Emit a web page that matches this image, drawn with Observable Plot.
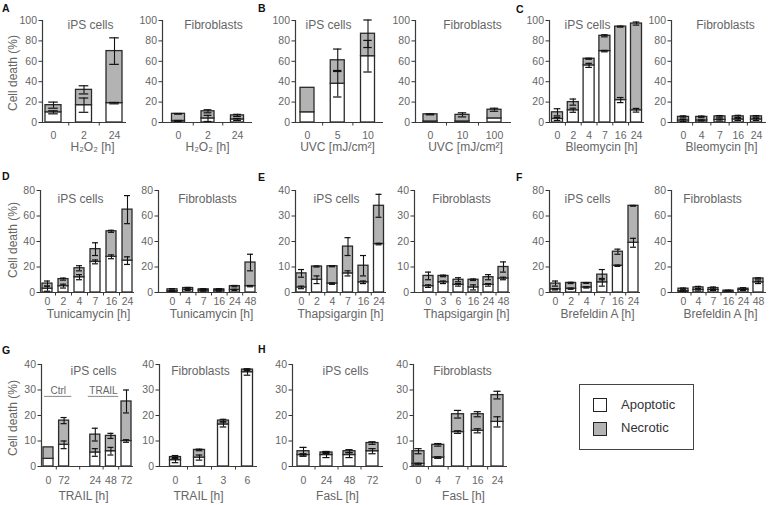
<!DOCTYPE html>
<html>
<head>
<meta charset="utf-8">
<script src="https://cdn.jsdelivr.net/npm/d3@7"></script>
<script src="https://cdn.jsdelivr.net/npm/@observablehq/plot@0.6"></script>
<style>
  body { margin: 0; background: #fff; }
  #fig { position: relative; width: 769px; height: 505px; overflow: hidden; background: #fff;
         font-family: "Liberation Sans", Arial, Helvetica, sans-serif; }
  #fig .letter { position: absolute; font-weight: bold; font-size: 10.5px; line-height: 10.5px; color: #111; }
  #fig .ylab { position: absolute; font-size: 12px; color: #666; white-space: nowrap;
               transform: translate(-50%, -50%) rotate(-90deg); }
  #fig svg.panel text { fill: #666; }
  #legend { position: absolute; left: 579px; top: 384px; width: 113px; height: 64px; border: 1px solid #444; background: #fff; }
  #legend .sw { position: absolute; left: 13px; width: 12px; height: 12px; border: 1.3px solid #222; }
  #legend .tx { position: absolute; left: 41px; font-size: 13px; line-height: 13px; color: #333; }
</style>
</head>
<body>
<div id="fig"></div>
<script>
// ---------------- DATA ----------------
const titleIPS = "iPS cells";
const titleFib = "Fibroblasts";
const seriesNames = ["Apoptotic", "Necrotic"];
const yLabel = "Cell death (%)";

// A: H2O2
const aIpsLabels = ["0", "2", "24"];
const aIpsApo = [10, 17, 19];
const aIpsApoErr = [1.5, 7, 0.7];
const aIpsTot = [17, 32, 70];
const aIpsTotErr = [3, 4, 13];
const aFibLabels = ["0", "2", "24"];
const aFibApo = [1.5, 4, 3];
const aFibApoErr = [0.5, 3, 1];
const aFibTot = [8.5, 11, 7];
const aFibTotErr = [0.3, 1.5, 1];

// B: UVC
const bIpsLabels = ["0", "5", "10"];
const bIpsApo = [10, 38, 65];
const bIpsApoErr = [0, 13, 15.5];
const bIpsTot = [34, 61, 87];
const bIpsTotErr = [0, 11, 13.5];
const bFibLabels = ["0", "10", "100"];
const bFibApo = [1, 1, 4];
const bFibApoErr = [0, 0, 0];
const bFibTot = [8, 7.5, 12.5];
const bFibTotErr = [0.5, 2, 1.5];

// C: Bleomycin
const cIpsLabels = ["0", "2", "4", "7", "16", "24"];
const cIpsApo = [3.5, 12, 56, 70, 22, 12];
const cIpsApoErr = [1.5, 2, 2, 0.7, 2.5, 1.8];
const cIpsTot = [10, 20, 62.5, 85, 94, 97];
const cIpsTotErr = [3.5, 3, 0.5, 1, 0.5, 1.5];
const cFibLabels = ["0", "4", "7", "16", "24"];
const cFibApo = [2, 2, 2.5, 3, 3];
const cFibApoErr = [1, 0.5, 1, 1, 1];
const cFibTot = [5.5, 5.5, 6, 6, 6];
const cFibTotErr = [1, 0.8, 0.8, 1, 0.8];

// D: Tunicamycin
const dIpsLabels = ["0", "2", "4", "7", "16", "24"];
const dIpsApo = [3, 5, 12, 24, 28, 25];
const dIpsApoErr = [2, 1.5, 2, 1.5, 1.5, 3];
const dIpsTot = [7, 10.5, 19, 34, 48, 65];
const dIpsTotErr = [2, 0.8, 2, 5, 0.8, 11];
const dFibLabels = ["0", "4", "7", "16", "24", "48"];
const dFibApo = [1, 2, 1.5, 1.5, 2, 5];
const dFibApoErr = [0.3, 0.5, 0.5, 0.5, 0.5, 0.5];
const dFibTot = [2.5, 3.5, 2.5, 2.5, 5, 23.5];
const dFibTotErr = [0.5, 0.5, 0.5, 0.5, 0.5, 6.5];

// E: Thapsigargin
const eIpsLabels = ["0", "2", "4", "7", "16", "24"];
const eIpsApo = [2, 5, 3.5, 7.5, 4, 19];
const eIpsApoErr = [0.5, 1.5, 0.3, 1, 0.5, 0.3];
const eIpsTot = [7.5, 10.2, 10.3, 18, 10.5, 34];
const eIpsTotErr = [1.5, 0.2, 0.2, 3.5, 4, 4.5];
const eFibLabels = ["0", "3", "6", "16", "24", "48"];
const eFibApo = [2.5, 4, 3, 2, 3, 5.5];
const eFibApoErr = [0.5, 0.5, 0.5, 1, 0.5, 0.5];
const eFibTot = [6.5, 6.5, 5, 5, 6, 10];
const eFibTotErr = [1.5, 0.3, 0.8, 0.3, 1, 2];

// F: Brefeldin A
const fIpsLabels = ["0", "2", "4", "7", "16", "24"];
const fIpsApo = [2.5, 3, 4, 8, 21, 39];
const fIpsApoErr = [0.5, 0.5, 0.5, 3, 0.5, 3.5];
const fIpsTot = [7, 7.5, 7.5, 14, 32, 68];
const fIpsTotErr = [2, 0.5, 0.3, 4, 2, 0.3];
const fFibLabels = ["0", "4", "7", "16", "24", "48"];
const fFibApo = [1, 2, 2, 0.5, 2, 8];
const fFibApoErr = [0.3, 0.8, 0.5, 0, 0.5, 1];
const fFibTot = [3, 4, 3.5, 1.5, 3, 11];
const fFibTotErr = [0.5, 0.8, 0.8, 0.3, 0.8, 0.5];

// G: TRAIL
const gIpsLabels = ["0", "72", "24", "48", "72"];
const gIpsSlots = [0, 1, 3, 4, 5];
const gIpsApo = [3, 8.5, 5.5, 6, 10];
const gIpsApoErr = [0, 1.5, 1.5, 1.5, 0.5];
const gIpsTot = [7.5, 18, 12.5, 12, 25.5];
const gIpsTotErr = [0, 1.2, 2.5, 1, 4.5];
const gIpsGroups = ["Ctrl", "TRAIL"];
const gIpsGroupFrom = [-0.25, 2.55];
const gIpsGroupTo = [1.5, 4.5];
const gFibLabels = ["0", "1", "3", "6"];
const gFibApo = [2.5, 3.5, 16.5, 37];
const gFibApoErr = [1, 1, 1, 1.2];
const gFibTot = [3.7, 6.5, 18, 38];
const gFibTotErr = [0.6, 0.3, 0.5, 0.3];

// H: FasL
const hIpsLabels = ["0", "24", "48", "72"];
const hIpsApo = [4.5, 4.5, 4.5, 6];
const hIpsApoErr = [0.5, 1, 1, 1];
const hIpsTot = [6, 5.5, 6, 9.2];
const hIpsTotErr = [1.5, 0.4, 0.6, 0.5];
const hFibLabels = ["0", "4", "7", "16", "24"];
const hFibApo = [1, 3.5, 13.5, 14, 17.5];
const hFibApoErr = [0.3, 0.3, 0.5, 0.8, 2];
const hFibTot = [6, 8.5, 20.5, 20.5, 28];
const hFibTotErr = [1, 0.5, 1.5, 1, 1.5];

const yTicks100 = [0, 20, 40, 60, 80, 100];
const yTicks80 = [0, 20, 40, 60, 80];
const yTicks40 = [0, 10, 20, 30, 40];

// ---------------- LAYOUT ----------------
const NECRO = "#b3b3b3", EDGE = "#2a2a2a", AXIS = "#3a3a3a", ERR = "#111";
const ML = 32, MR = 10, MT = 16, MB = 40;
const ROWS = {
  r1: {top: 20, bottom: 122, titleY: 25, tickPad: 9, xlabY: 147},
  r2: {top: 190, bottom: 292, titleY: 199, tickPad: 5.5, xlabY: 314},
  r3: {top: 364, bottom: 466, titleY: 371, tickPad: 10, xlabY: 496}
};
const idx = (a) => a.map((_, i) => i);

const panels = [
  {row: "r1", left: 42, right: 126, firstPx: 53, lastPx: 114, barW: 16, ymax: 100, yticks: yTicks100,
   labels: aIpsLabels, pos: idx(aIpsLabels), apo: aIpsApo, apoErr: aIpsApoErr, tot: aIpsTot, totErr: aIpsTotErr,
   title: titleIPS, titleX: 90, xlabel: "H\u2082O\u2082 [h]", xlabelX: 92},
  {row: "r1", left: 162, right: 252, firstPx: 178, lastPx: 237, barW: 13, ymax: 100, yticks: yTicks100,
   labels: aFibLabels, pos: idx(aFibLabels), apo: aFibApo, apoErr: aFibApoErr, tot: aFibTot, totErr: aFibTotErr,
   title: titleFib, titleX: 213, xlabel: "H\u2082O\u2082 [h]", xlabelX: 207},
  {row: "r1", left: 295, right: 383, firstPx: 307, lastPx: 367.5, barW: 14, ymax: 100, yticks: yTicks100,
   labels: bIpsLabels, pos: idx(bIpsLabels), apo: bIpsApo, apoErr: bIpsApoErr, tot: bIpsTot, totErr: bIpsTotErr,
   title: titleIPS, titleX: 328, xlabel: "UVC [mJ/cm\u00b2]", xlabelX: 337},
  {row: "r1", left: 415, right: 511, firstPx: 430, lastPx: 494, barW: 14, ymax: 100, yticks: yTicks100,
   labels: bFibLabels, pos: idx(bFibLabels), apo: bFibApo, apoErr: bFibApoErr, tot: bFibTot, totErr: bFibTotErr,
   title: titleFib, titleX: 472, xlabel: "UVC [mJ/cm\u00b2]", xlabelX: 465},
  {row: "r1", left: 549, right: 644, firstPx: 557, lastPx: 636, barW: 11, ymax: 100, yticks: yTicks100,
   labels: cIpsLabels, pos: idx(cIpsLabels), apo: cIpsApo, apoErr: cIpsApoErr, tot: cIpsTot, totErr: cIpsTotErr,
   title: titleIPS, titleX: 587, xlabel: "Bleomycin [h]", xlabelX: 601},
  {row: "r1", left: 671, right: 766, firstPx: 683, lastPx: 756, barW: 11, ymax: 100, yticks: yTicks100,
   labels: cFibLabels, pos: idx(cFibLabels), apo: cFibApo, apoErr: cFibApoErr, tot: cFibTot, totErr: cFibTotErr,
   title: titleFib, titleX: 725, xlabel: "Bleomycin [h]", xlabelX: 721},

  {row: "r2", left: 40, right: 134, firstPx: 47, lastPx: 127, barW: 10, ymax: 80, yticks: yTicks80,
   labels: dIpsLabels, pos: idx(dIpsLabels), apo: dIpsApo, apoErr: dIpsApoErr, tot: dIpsTot, totErr: dIpsTotErr,
   title: titleIPS, titleX: 80, xlabel: "Tunicamycin [h]", xlabelX: 88},
  {row: "r2", left: 158, right: 257, firstPx: 172, lastPx: 250, barW: 10, ymax: 80, yticks: yTicks80,
   labels: dFibLabels, pos: idx(dFibLabels), apo: dFibApo, apoErr: dFibApoErr, tot: dFibTot, totErr: dFibTotErr,
   title: titleFib, titleX: 207, xlabel: "Tunicamycin [h]", xlabelX: 211},
  {row: "r2", left: 295, right: 386, firstPx: 301, lastPx: 378.5, barW: 10, ymax: 40, yticks: yTicks40,
   labels: eIpsLabels, pos: idx(eIpsLabels), apo: eIpsApo, apoErr: eIpsApoErr, tot: eIpsTot, totErr: eIpsTotErr,
   title: titleIPS, titleX: 336, xlabel: "Thapsigargin [h]", xlabelX: 340},
  {row: "r2", left: 414, right: 510, firstPx: 428, lastPx: 503, barW: 10, ymax: 40, yticks: yTicks40,
   labels: eFibLabels, pos: idx(eFibLabels), apo: eFibApo, apoErr: eFibApoErr, tot: eFibTot, totErr: eFibTotErr,
   title: titleFib, titleX: 461, xlabel: "Thapsigargin [h]", xlabelX: 466},
  {row: "r2", left: 549, right: 640, firstPx: 555, lastPx: 633, barW: 10, ymax: 80, yticks: yTicks80,
   labels: fIpsLabels, pos: idx(fIpsLabels), apo: fIpsApo, apoErr: fIpsApoErr, tot: fIpsTot, totErr: fIpsTotErr,
   title: titleIPS, titleX: 587, xlabel: "Brefeldin A [h]", xlabelX: 597},
  {row: "r2", left: 671, right: 766, firstPx: 683, lastPx: 758, barW: 10, ymax: 80, yticks: yTicks80,
   labels: fFibLabels, pos: idx(fFibLabels), apo: fFibApo, apoErr: fFibApoErr, tot: fFibTot, totErr: fFibTotErr,
   title: titleFib, titleX: 712, xlabel: "Brefeldin A [h]", xlabelX: 720},

  {row: "r3", left: 41, right: 133, firstPx: 48, lastPx: 126, barW: 10, ymax: 40, yticks: yTicks40,
   labels: gIpsLabels, pos: gIpsSlots, apo: gIpsApo, apoErr: gIpsApoErr, tot: gIpsTot, totErr: gIpsTotErr,
   title: titleIPS, titleX: 93, xlabel: "TRAIL [h]", xlabelX: 83, groups: true},
  {row: "r3", left: 159, right: 257, firstPx: 175, lastPx: 247, barW: 11, ymax: 40, yticks: yTicks40,
   labels: gFibLabels, pos: idx(gFibLabels), apo: gFibApo, apoErr: gFibApoErr, tot: gFibTot, totErr: gFibTotErr,
   title: titleFib, titleX: 200, xlabel: "TRAIL [h]", xlabelX: 198},
  {row: "r3", left: 292, right: 383, firstPx: 303, lastPx: 372, barW: 12, ymax: 40, yticks: yTicks40,
   labels: hIpsLabels, pos: idx(hIpsLabels), apo: hIpsApo, apoErr: hIpsApoErr, tot: hIpsTot, totErr: hIpsTotErr,
   title: titleIPS, titleX: 345, xlabel: "FasL [h]", xlabelX: 337},
  {row: "r3", left: 413, right: 507, firstPx: 418, lastPx: 497, barW: 12, ymax: 40, yticks: yTicks40,
   labels: hFibLabels, pos: idx(hFibLabels), apo: hFibApo, apoErr: hFibApoErr, tot: hFibTot, totErr: hFibTotErr,
   title: titleFib, titleX: 462, xlabel: "FasL [h]", xlabelX: 463}
];

const fig = document.getElementById("fig");

function panel(p) {
  const row = ROWS[p.row];
  const n = p.pos.length;
  const spacing = (p.lastPx - p.firstPx) / (p.pos[n - 1] - p.pos[0]);
  const x0 = p.pos[0] - (p.firstPx - p.left) / spacing;
  const x1 = p.pos[n - 1] + (p.right - p.lastPx) / spacing;
  const hw = p.barW / 2 / spacing;
  const cw = p.barW * 0.3 / spacing;
  const plotH = row.bottom - row.top;
  const tickLen = 3.5 * p.ymax / plotH;
  const labelOf = new Map(p.pos.map((v, i) => [v, p.labels[i]]));
  const bars = p.pos.map((x, i) => ({x, apo: p.apo[i], apoErr: p.apoErr[i], tot: p.tot[i], totErr: p.totErr[i]}));
  const errs = [];
  for (const b of bars) {
    if (b.apoErr > 0) errs.push({x: b.x, lo: b.apo - b.apoErr, hi: b.apo + b.apoErr});
    if (b.totErr > 0) errs.push({x: b.x, lo: b.tot - b.totErr, hi: b.tot + b.totErr});
  }
  const caps = errs.flatMap(e => [{x: e.x, y: e.lo}, {x: e.x, y: e.hi}]);
  const bounds = p.pos.slice(1).map((v, i) => (v + p.pos[i]) / 2);
  const frameCx = (p.left + p.right) / 2;

  const marks = [
    Plot.rect(bars, {x1: d => d.x - hw, x2: d => d.x + hw, y1: d => 0, y2: d => d.apo,
      fill: "#fff", stroke: EDGE, strokeWidth: 1.3}),
    Plot.rect(bars, {x1: d => d.x - hw, x2: d => d.x + hw, y1: d => d.apo, y2: d => d.tot,
      fill: NECRO, stroke: EDGE, strokeWidth: 1.3}),
    Plot.ruleX(errs, {x: "x", y1: "lo", y2: "hi", stroke: ERR, strokeWidth: 1.1}),
    Plot.ruleY(caps, {y: "y", x1: d => d.x - cw, x2: d => d.x + cw, stroke: ERR, strokeWidth: 1.2}),
    Plot.ruleX([x0], {x: d => d, y1: d => 0, y2: d => p.ymax, stroke: AXIS, strokeWidth: 1.2}),
    Plot.ruleY([0], {y: d => d, x1: d => x0, x2: d => x1, stroke: AXIS, strokeWidth: 1.2}),
    Plot.ruleX(bounds, {x: d => d, y1: d => 0, y2: d => -tickLen, stroke: AXIS, strokeWidth: 1}),
    Plot.text([p.title], {text: d => d, frameAnchor: "top", lineAnchor: "middle",
      dx: p.titleX - frameCx, dy: row.titleY - row.top, fontSize: 12, fill: "#666"}),
    Plot.text([p.xlabel], {text: d => d, frameAnchor: "bottom", lineAnchor: "middle",
      dx: p.xlabelX - frameCx, dy: row.xlabY - row.bottom, fontSize: 12, fill: "#666"})
  ];
  if (p.groups) {
    const g = gIpsGroups.map((name, i) => ({name, from: gIpsGroupFrom[i], to: gIpsGroupTo[i]}));
    marks.push(
      Plot.ruleY(g, {y: d => 27.5, x1: "from", x2: "to", stroke: "#888", strokeWidth: 1}),
      Plot.text(g, {x: d => (d.from + d.to) / 2, y: d => 29.6, text: "name", fontSize: 10, fill: "#666"})
    );
  }

  const svg = Plot.plot({
    width: p.right - p.left + ML + MR,
    height: plotH + MT + MB,
    marginLeft: ML, marginRight: MR, marginTop: MT, marginBottom: MB,
    style: {fontFamily: '"Liberation Sans", Arial, Helvetica, sans-serif', fontSize: "10.5px",
            color: "#333", background: "transparent", overflow: "visible"},
    x: {type: "linear", domain: [x0, x1], ticks: p.pos, tickFormat: d => labelOf.get(d) ?? "",
        tickSize: 0, tickPadding: row.tickPad, label: null},
    y: {type: "linear", domain: [0, p.ymax], ticks: p.yticks, tickSize: 3.5, tickPadding: 2, label: null},
    marks
  });
  svg.classList.add("panel");
  svg.style.position = "absolute";
  svg.style.left = (p.left - ML) + "px";
  svg.style.top = (row.top - MT) + "px";
  fig.appendChild(svg);
}

panels.forEach(panel);

// panel letters
const letters = [["A", 2, 2.6], ["B", 258, 2.6], ["C", 516, 3.5], ["D", 2, 170.5],
                 ["E", 258, 171.5], ["F", 516, 171.5], ["G", 2, 344.5], ["H", 258, 344]];
for (const [t, x, y] of letters) {
  const d = document.createElement("div");
  d.className = "letter"; d.textContent = t;
  d.style.left = x + "px"; d.style.top = y + "px";
  fig.appendChild(d);
}
// y labels
for (const cy of [73, 240, 418]) {
  const d = document.createElement("div");
  d.className = "ylab"; d.textContent = yLabel;
  d.style.left = "13px"; d.style.top = cy + "px";
  fig.appendChild(d);
}
// legend
const legend = document.createElement("div");
legend.id = "legend";
const fills = ["#fff", NECRO];
seriesNames.forEach((name, i) => {
  const sw = document.createElement("div");
  sw.className = "sw"; sw.style.background = fills[i]; sw.style.top = (13 + i * 24) + "px";
  const tx = document.createElement("div");
  tx.className = "tx"; tx.textContent = name; tx.style.top = (13 + i * 23) + "px";
  legend.appendChild(sw); legend.appendChild(tx);
});
fig.appendChild(legend);
</script>
</body>
</html>
